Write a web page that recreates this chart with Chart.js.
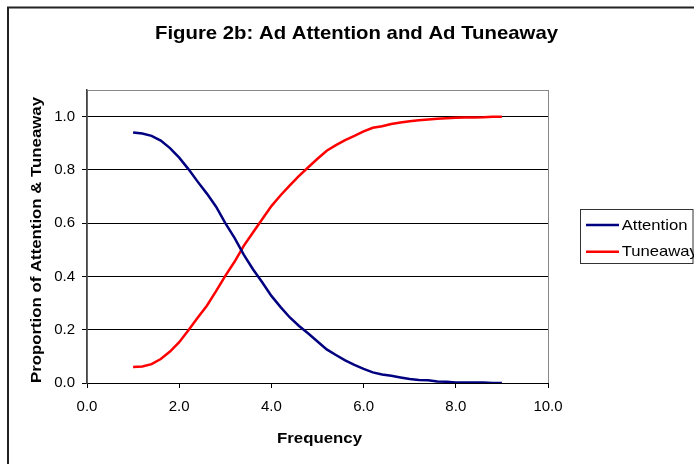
<!DOCTYPE html>
<html>
<head>
<meta charset="utf-8">
<script src="https://cdn.jsdelivr.net/npm/chart.js@4/dist/chart.umd.min.js"></script>
<style>
  html, body { margin: 0; padding: 0; background: #fff; }
  #wrap { position: relative; width: 694px; height: 464px; }
</style>
</head>
<body>
<div id="wrap"><canvas id="c" width="694" height="464"></canvas></div>
<script>
// Ad exposure frequency and the share of viewers attending vs. tuning away
const frequency = [1.0, 1.2, 1.4, 1.6, 1.8, 2.0, 2.2, 2.4, 2.6, 2.8,
                   3.0, 3.2, 3.4, 3.6, 3.8, 4.0, 4.2, 4.4, 4.6, 4.8,
                   5.0, 5.2, 5.4, 5.6, 5.8, 6.0, 6.2, 6.4, 6.6, 6.8,
                   7.0, 7.2, 7.4, 7.6, 7.8, 8.0, 8.2, 8.4, 8.6, 8.8, 9.0];
const attention = [0.940, 0.937, 0.928, 0.910, 0.882, 0.846, 0.803, 0.756, 0.711, 0.662,
                   0.600, 0.545, 0.482, 0.427, 0.378, 0.327, 0.285, 0.246, 0.214, 0.186,
                   0.156, 0.126, 0.105, 0.085, 0.068, 0.053, 0.040, 0.032, 0.027, 0.021,
                   0.015, 0.011, 0.010, 0.006, 0.005, 0.002, 0.002, 0.002, 0.002, 0.000, 0.000];
const tuneaway  = [0.060, 0.062, 0.071, 0.090, 0.118, 0.153, 0.198, 0.245, 0.290, 0.345,
                   0.402, 0.455, 0.515, 0.565, 0.615, 0.664, 0.705, 0.742, 0.778, 0.810,
                   0.842, 0.872, 0.893, 0.912, 0.928, 0.945, 0.958, 0.964, 0.972, 0.978,
                   0.983, 0.986, 0.989, 0.992, 0.994, 0.996, 0.997, 0.997, 0.998, 1.000, 1.000];
const seriesNames = ['Attention', 'Tuneaway'];
const seriesColors = ['#000080', '#FF0000'];
const chartTitle = 'Figure 2b: Ad Attention and Ad Tuneaway';
const xTitle = 'Frequency';
const yTitle = 'Proportion of Attention & Tuneaway';

const FONT = 'Arial, "Liberation Sans", Helvetica, sans-serif';

const toPoints = (ys) => frequency.map((f, i) => ({ x: f, y: ys[i] }));

// Text drawn slightly wide, in the style of the original spreadsheet export
function wideText(ctx, text, x, y, font, widthFactor, align, baseline, rotate) {
  ctx.save();
  ctx.font = font;
  ctx.textAlign = align;
  ctx.textBaseline = baseline;
  ctx.fillStyle = '#000';
  ctx.translate(x, y);
  if (rotate) ctx.rotate(rotate);
  ctx.scale(widthFactor, 1);
  ctx.fillText(text, 0, 0);
  ctx.restore();
}
function factorFor(ctx, text, font, targetWidth) {
  ctx.save();
  ctx.font = font;
  const w = ctx.measureText(text).width;
  ctx.restore();
  return targetWidth / w;
}

// Outer frame, plot-area box, titles and boxed legend
const decor = {
  id: 'decor',
  beforeDraw(chart) {
    const { ctx, chartArea: a } = chart;
    ctx.save();
    ctx.fillStyle = '#fff';
    ctx.fillRect(0, 0, chart.width, chart.height);
    ctx.strokeStyle = '#222';
    ctx.lineWidth = 2;
    ctx.beginPath();
    ctx.moveTo(8, chart.height + 5);
    ctx.lineTo(8, 7.5);
    ctx.lineTo(chart.width + 5, 7.5);
    ctx.stroke();
    ctx.strokeStyle = '#888';
    ctx.lineWidth = 1;
    ctx.strokeRect(Math.round(a.left) + 0.5, Math.round(a.top) + 0.5,
                   Math.round(a.right - a.left), Math.round(a.bottom - a.top));
    ctx.restore();
  },
  afterDraw(chart) {
    const { ctx, chartArea: a } = chart;
    // chart title
    const tFont = 'bold 19px ' + FONT;
    wideText(ctx, chartTitle, 356.5, 39, tFont, factorFor(ctx, chartTitle, tFont, 403), 'center', 'alphabetic');
    // axis titles
    const aFont = 'bold 15px ' + FONT;
    wideText(ctx, xTitle, (a.left + a.right) / 2 + 2, 443, aFont, factorFor(ctx, xTitle, aFont, 85), 'center', 'alphabetic');
    wideText(ctx, yTitle, 37, 240, aFont, factorFor(ctx, yTitle, aFont, 286), 'center', 'middle', -Math.PI / 2);
    // legend
    ctx.save();
    ctx.strokeStyle = '#333';
    ctx.lineWidth = 1;
    ctx.strokeRect(580.5, 209.5, 112.5, 54);
    ctx.restore();
    const lFont = '15px ' + FONT;
    const lf = factorFor(ctx, seriesNames[0], lFont, 65.7);
    chart.data.datasets.forEach((ds, i) => {
      const y = 225 + i * 26.7;
      ctx.save();
      ctx.strokeStyle = ds.borderColor;
      ctx.lineWidth = 2.5;
      ctx.beginPath();
      ctx.moveTo(586, y);
      ctx.lineTo(619, y);
      ctx.stroke();
      ctx.restore();
      wideText(ctx, ds.label, 621.7, y + 4.5, lFont, lf, 'left', 'alphabetic');
    });
  }
};

new Chart(document.getElementById('c'), {
  type: 'line',
  data: {
    datasets: [
      { label: seriesNames[0], data: toPoints(attention), borderColor: seriesColors[0], backgroundColor: seriesColors[0] },
      { label: seriesNames[1], data: toPoints(tuneaway),  borderColor: seriesColors[1], backgroundColor: seriesColors[1] }
    ]
  },
  options: {
    responsive: false,
    animation: false,
    devicePixelRatio: 1,
    layout: { padding: { left: 0, right: 146, top: 90, bottom: 0 } },
    elements: {
      point: { radius: 0, hoverRadius: 0 },
      line: { borderWidth: 2.5, tension: 0, fill: false }
    },
    plugins: {
      legend: { display: false },
      title: { display: false },
      tooltip: { enabled: false }
    },
    scales: {
      x: {
        type: 'linear',
        min: 0, max: 10,
        afterFit(s) { s.height = 81; },
        ticks: {
          stepSize: 2,
          color: '#000',
          padding: 10,
          maxRotation: 0,
          font: { family: FONT, size: 15 },
          callback: (v) => Number(v).toFixed(1)
        },
        grid: { drawOnChartArea: false, drawTicks: true, tickLength: 5, color: '#000' },
        border: { display: true, color: '#000', width: 1 },
        title: { display: false }
      },
      y: {
        type: 'linear',
        min: 0, max: 1.1,
        afterFit(s) { s.width = 87; },
        afterBuildTicks(s) { s.ticks = s.ticks.filter(t => t.value <= 1.0001); },
        ticks: {
          stepSize: 0.2,
          color: '#000',
          padding: 7,
          font: { family: FONT, size: 15 },
          callback: (v) => Number(v).toFixed(1)
        },
        grid: { color: '#000', lineWidth: 1, drawTicks: true, tickLength: 5 },
        border: { display: true, color: '#444', width: 1.5 },
        title: { display: false }
      }
    }
  },
  plugins: [decor]
});
</script>
</body>
</html>
